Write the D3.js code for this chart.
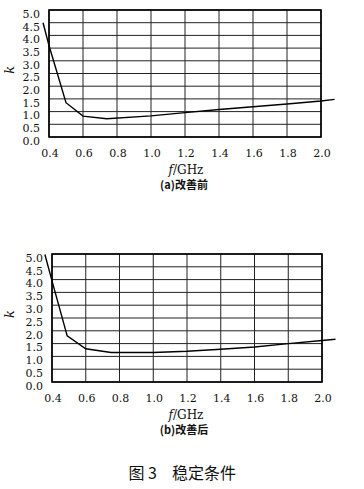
<!DOCTYPE html>
<html>
<head>
<meta charset="utf-8">
<script src="https://cdn.jsdelivr.net/npm/d3@7"></script>
<style>
  body { margin: 0; background: #fff; }
  text { fill: #111; }
</style>
</head>
<body>
<svg width="364" height="489"></svg>
<script>
// values
const xTicks = [0.4, 0.6, 0.8, 1.0, 1.2, 1.4, 1.6, 1.8, 2.0];
const yTicks = [0, 0.5, 1, 1.5, 2, 2.5, 3, 3.5, 4, 4.5, 5];

// (a) before improvement
const freqA = [0.365, 0.4, 0.5, 0.6, 0.74, 1.0, 1.2, 1.4, 1.6, 1.8, 2.0, 2.08];
const kA = [4.5, 3.6, 1.35, 0.82, 0.72, 0.83, 0.96, 1.08, 1.19, 1.3, 1.42, 1.48];

// (b) after improvement
const freqB = [0.358, 0.4, 0.49, 0.6, 0.75, 1.0, 1.2, 1.4, 1.6, 1.8, 2.0, 2.08];
const kB = [4.98, 3.95, 1.8, 1.3, 1.15, 1.15, 1.2, 1.28, 1.37, 1.5, 1.62, 1.67];

var svg = d3.select("svg");

var serif = "'DejaVu Serif', 'Liberation Serif', serif";
var cjk = "'Noto Sans CJK SC', sans-serif";

function drawPanel(freq, k, box, subtitle) {
  var x = d3.scaleLinear().domain([0.4, 2.0]).range([box.left, box.right]);
  var y = d3.scaleLinear().domain([0, 5]).range([box.bottom, box.top]);

  var g = svg.append("g");

  // horizontal grid
  g.selectAll("line.hgrid")
    .data(yTicks)
    .enter()
    .append("line")
    .attr("class", "hgrid")
    .attr("x1", box.left)
    .attr("x2", box.right)
    .attr("y1", d => y(d))
    .attr("y2", d => y(d))
    .style("stroke", "#222")
    .style("stroke-width", 1);

  // vertical grid
  g.selectAll("line.vgrid")
    .data(xTicks)
    .enter()
    .append("line")
    .attr("class", "vgrid")
    .attr("x1", d => x(d))
    .attr("x2", d => x(d))
    .attr("y1", box.top)
    .attr("y2", box.bottom)
    .style("stroke", "#222")
    .style("stroke-width", 1);

  // frame
  g.append("rect")
    .attr("x", box.left)
    .attr("y", box.top)
    .attr("width", box.right - box.left)
    .attr("height", box.bottom - box.top)
    .attr("fill", "none")
    .style("stroke", "#000")
    .style("stroke-width", 1.6);

  // y tick labels (sit a little below their lines, as in the scan)
  g.selectAll("text.ytick")
    .data(yTicks)
    .enter()
    .append("text")
    .attr("x", box.left - 9)
    .attr("y", d => y(d) + 4)
    .attr("dy", "0.35em")
    .attr("text-anchor", "end")
    .style("font-family", serif)
    .style("font-size", "11px")
    .text(d => d.toFixed(1));

  // x tick labels
  g.selectAll("text.xtick")
    .data(xTicks)
    .enter()
    .append("text")
    .attr("x", d => x(d) + 1)
    .attr("y", box.bottom + 16)
    .attr("dy", "0.35em")
    .attr("text-anchor", "middle")
    .style("font-family", serif)
    .style("font-size", "11px")
    .text(d => d.toFixed(1));

  // curve, runs a bit past the frame on both sides
  var line = d3.line()
    .x(d => x(d[0]))
    .y(d => y(d[1]));

  g.append("path")
    .datum(d3.zip(freq, k))
    .attr("d", line)
    .attr("fill", "none")
    .style("stroke", "#000")
    .style("stroke-width", 1.4);

  // k label
  g.append("text")
    .attr("transform", "translate(14," + (box.top + (box.bottom - box.top) * 0.47) + ") rotate(-90)")
    .attr("text-anchor", "middle")
    .style("font-family", serif)
    .style("font-style", "italic")
    .style("font-size", "13px")
    .text("k");

  // f/GHz
  var xl = g.append("text")
    .attr("x", 186)
    .attr("y", box.bottom + 37)
    .attr("text-anchor", "middle")
    .style("font-family", serif)
    .style("font-size", "12px");
  xl.append("tspan").style("font-style", "italic").text("f");
  xl.append("tspan").text("/GHz");

  // sub caption
  g.append("text")
    .attr("x", 184)
    .attr("y", box.bottom + 52)
    .attr("text-anchor", "middle")
    .style("font-family", cjk)
    .style("font-weight", "bold")
    .style("font-size", "11px")
    .text(subtitle);
}

drawPanel(freqA, kA, { left: 49, right: 321, top: 10, bottom: 137 }, "(a)改善前");
drawPanel(freqB, kB, { left: 52, right: 322, top: 254, bottom: 382 }, "(b)改善后");

// figure caption, two pieces with a wide gap
svg.append("text")
  .attr("x", 157)
  .attr("y", 479)
  .attr("text-anchor", "end")
  .style("font-family", cjk)
  .style("font-size", "16px")
  .text("图 3");

svg.append("text")
  .attr("x", 172)
  .attr("y", 479)
  .attr("text-anchor", "start")
  .style("font-family", cjk)
  .style("font-size", "16px")
  .text("稳定条件");
</script>
</body>
</html>
